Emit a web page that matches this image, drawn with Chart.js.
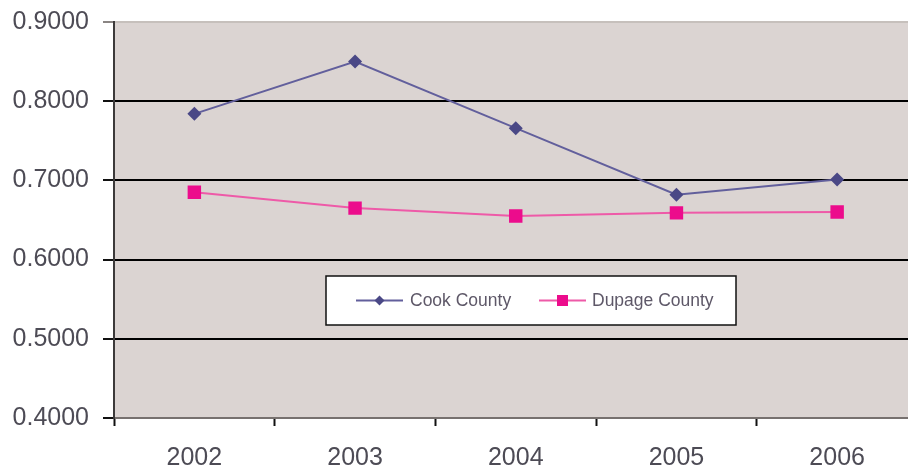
<!DOCTYPE html>
<html>
<head>
<meta charset="utf-8">
<script src="https://cdn.jsdelivr.net/npm/chart.js@4.4.1/dist/chart.umd.min.js"></script>
<style>
  html, body { margin: 0; padding: 0; background: #fff; overflow: hidden; }
  #wrap { width: 908px; height: 472px; overflow: hidden; position: relative; }
  #ratioChart { position: absolute; left: 0; top: -7px; }
</style>
</head>
<body>
<div id="wrap"><canvas id="ratioChart" width="927" height="479"></canvas></div>
<script>
var years = ['2002', '2003', '2004', '2005', '2006'];
var cookCounty = [0.784, 0.850, 0.766, 0.682, 0.701];
var dupageCounty = [0.685, 0.665, 0.655, 0.659, 0.660];
var seriesNames = ['Cook County', 'Dupage County'];
var yTicks = [0.4, 0.5, 0.6, 0.7, 0.8, 0.9];

var labelColor = '#4d4b55';

// grey plot background
var plotBackground = {
    id: 'plotBackground',
    beforeDraw: function (chart) {
        var a = chart.chartArea, ctx = chart.ctx;
        ctx.save();
        ctx.fillStyle = '#dbd4d2';
        ctx.fillRect(a.left, a.top, a.right - a.left, a.bottom - a.top);
        ctx.restore();
    }
};

// boxed legend sitting inside the plot (canvas is shifted up 7px)
var boxLegend = {
    id: 'boxLegend',
    afterDraw: function (chart) {
        var ctx = chart.ctx;
        var box = { x: 326, y: 283, w: 410, h: 49 };
        var midY = box.y + box.h / 2;
        ctx.save();
        ctx.fillStyle = '#ffffff';
        ctx.fillRect(box.x, box.y, box.w, box.h);
        ctx.lineWidth = 1.5;
        ctx.strokeStyle = '#111';
        ctx.strokeRect(box.x, box.y, box.w, box.h);

        var entries = [
            { x: 356, textX: 410 },
            { x: 539, textX: 592 }
        ];
        ctx.font = '17.5px "Liberation Sans", Arial, sans-serif';
        ctx.textBaseline = 'middle';
        chart.data.datasets.forEach(function (ds, i) {
            var e = entries[i];
            ctx.strokeStyle = ds.borderColor;
            ctx.lineWidth = 2;
            ctx.beginPath();
            ctx.moveTo(e.x, midY);
            ctx.lineTo(e.x + 47, midY);
            ctx.stroke();
            var cx = e.x + 23.5;
            ctx.fillStyle = ds.pointBackgroundColor;
            ctx.beginPath();
            if (ds.pointStyle === 'rectRot') {
                ctx.moveTo(cx, midY - 5);
                ctx.lineTo(cx + 5, midY);
                ctx.lineTo(cx, midY + 5);
                ctx.lineTo(cx - 5, midY);
                ctx.closePath();
            } else {
                ctx.rect(cx - 5.5, midY - 5.5, 11, 11);
            }
            ctx.fill();
            ctx.fillStyle = '#5e5868';
            ctx.fillText(ds.label, e.textX, midY + 1);
        });
        ctx.restore();
    }
};

var ctx = document.getElementById('ratioChart').getContext('2d');

var chart = new Chart(ctx, {
    type: 'line',
    data: {
        labels: years,
        datasets: [{
            label: seriesNames[0],
            data: cookCounty,
            borderColor: '#625f9c',
            borderWidth: 2,
            pointStyle: 'rectRot',
            pointRadius: 7,
            pointBackgroundColor: '#4a4886',
            pointBorderWidth: 0,
            tension: 0
        }, {
            label: seriesNames[1],
            data: dupageCounty,
            borderColor: '#ee5aa8',
            borderWidth: 2,
            pointStyle: 'rect',
            pointRadius: 9.5,
            pointBackgroundColor: '#ec0c8c',
            pointBorderWidth: 0,
            tension: 0
        }]
    },
    options: {
        responsive: false,
        devicePixelRatio: 1,
        animation: false,
        layout: { padding: { top: 15, right: 0, left: 0, bottom: 0 } },
        plugins: {
            legend: { display: false },
            tooltip: { enabled: false }
        },
        scales: {
            x: {
                offset: true,
                grid: {
                    offset: true,
                    drawOnChartArea: false,
                    drawTicks: true,
                    tickLength: 8,
                    tickColor: '#111',
                    tickWidth: 2
                },
                border: { color: '#77716f', width: 2 },
                ticks: {
                    color: labelColor,
                    padding: 17,
                    font: { family: '"Liberation Sans", Arial, sans-serif', size: 25 }
                },
                afterFit: function (scale) { scale.height = 54; }
            },
            y: {
                min: 0.4,
                max: 0.9,
                afterBuildTicks: function (scale) {
                    scale.ticks = yTicks.map(function (v) { return { value: v }; });
                },
                grid: {
                    color: function (c) {
                        var v = c.tick ? c.tick.value : 0;
                        if (Math.abs(v - 0.9) < 1e-6) return '#c6c0bc';
                        if (Math.abs(v - 0.4) < 1e-6) return '#77716f';
                        return '#000';
                    },
                    tickColor: function (c) {
                        var v = c.tick ? c.tick.value : 0;
                        return Math.abs(v - 0.9) < 1e-6 ? '#8a8583' : '#111';
                    },
                    lineWidth: 2,
                    tickLength: 11
                },
                border: { color: '#3c3a3a', width: 2 },
                ticks: {
                    color: labelColor,
                    padding: 14,
                    font: { family: '"Liberation Sans", Arial, sans-serif', size: 25 },
                    callback: function (v) { return Number(v).toFixed(4); }
                },
                afterFit: function (scale) { scale.width = 114; }
            }
        }
    },
    plugins: [plotBackground, boxLegend]
});
</script>
</body>
</html>
